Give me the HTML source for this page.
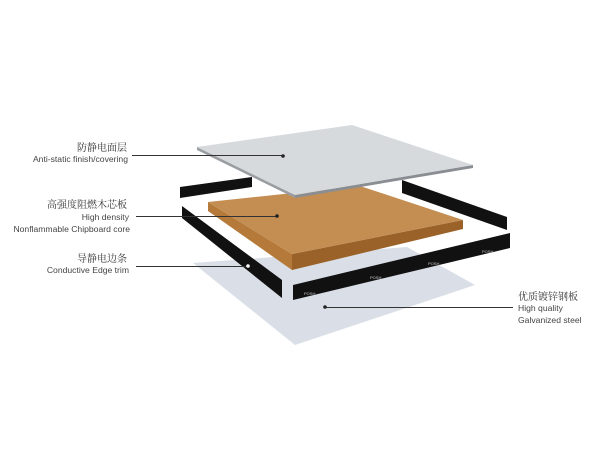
<!DOCTYPE html>
<html><head><meta charset="utf-8"><style>
html,body{margin:0;padding:0;background:#fff;width:600px;height:450px;overflow:hidden}
svg{display:block}
.en{font-family:"Liberation Sans",sans-serif;font-size:8.6px;fill:#444}
.cn{font-family:"Liberation Serif","Noto Serif CJK SC",serif;font-size:10px;fill:#333}
</style></head><body>
<svg width="600" height="450" viewBox="0 0 600 450" xmlns="http://www.w3.org/2000/svg">
<!-- bottom steel -->
<polygon points="193,263 407,247 475,285 295,345" fill="#d9dee7"/>
<!-- back strips -->
<polygon points="180,187 252,177 252,187 180,198" fill="#111"/>
<polygon points="402,180 507,217 507,230 402,193" fill="#111"/>
<!-- left front strip -->
<polygon points="182,206 282,280 282,298 182,218" fill="#111"/>
<!-- brown core -->
<polygon points="208,202 208,211 292,270 292,254" fill="#b57a3a"/>
<polygon points="292,254 463,220 463,229 292,270" fill="#9a6228"/>
<polygon points="208,202 360,186 463,220 292,254" fill="#c48e52"/>
<!-- front right strip -->
<polygon points="293,285 510,233 510,248 293,300" fill="#111"/>
<g font-family="Liberation Sans,sans-serif" font-size="4" fill="#ccc">
<text x="304" y="295">POSH</text><text x="370" y="279">POSH</text><text x="428" y="265">POSH</text><text x="482" y="253">POSH</text>
</g>
<!-- top panel -->
<polygon points="197,147 295,195 295,198 197,150" fill="#9a9ea3"/>
<polygon points="295,195 473,165 473,168 295,198" fill="#8a8e93"/>
<polygon points="197,147 352,125 473,165 295,195" fill="#d7dadd"/>
<!-- leader lines -->
<g stroke="#333" stroke-width="1">
<line x1="132" y1="155.5" x2="283" y2="155.5"/>
<line x1="136" y1="216.5" x2="277" y2="216.5"/>
<line x1="136" y1="266.5" x2="248" y2="266.5"/>
<line x1="325" y1="307.5" x2="513" y2="307.5"/>
</g>
<g fill="#222"><circle cx="283" cy="156" r="1.8"/><circle cx="277" cy="216" r="1.8"/><circle cx="325" cy="307" r="1.8"/></g>
<circle cx="248" cy="266" r="1.8" fill="#fff"/>
<!-- labels -->
<text class="cn" x="127" y="151" text-anchor="end">防静电面层</text>
<text class="en" x="128" y="162" text-anchor="end">Anti-static finish/covering</text>
<text class="cn" x="127" y="208" text-anchor="end">高强度阻燃木芯板</text>
<text class="en" x="129" y="220" text-anchor="end">High density</text>
<text class="en" x="130" y="232" text-anchor="end">Nonflammable Chipboard core</text>
<text class="cn" x="127" y="262" text-anchor="end">导静电边条</text>
<text class="en" x="129" y="273" text-anchor="end">Conductive Edge trim</text>
<text class="cn" x="518" y="300">优质镀锌钢板</text>
<text class="en" x="518" y="311">High quality</text>
<text class="en" x="518" y="323">Galvanized steel</text>
</svg>
</body></html>
